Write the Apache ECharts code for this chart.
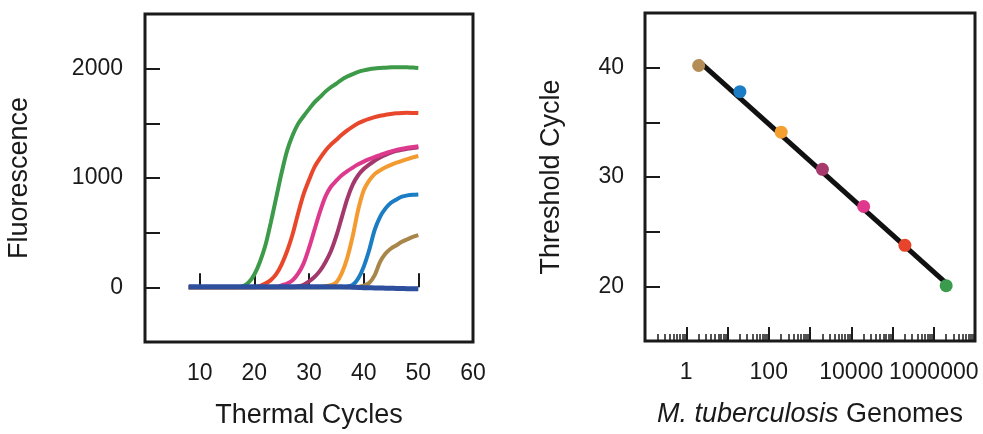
<!DOCTYPE html>
<html>
<head>
<meta charset="utf-8">
<title>Real-time PCR</title>
<script src="https://cdn.jsdelivr.net/npm/echarts@6/dist/echarts.min.js"></script>
<style>
  html, body { margin: 0; padding: 0; background: #fff; }
  #chart { width: 983px; height: 434px; }
</style>
</head>
<body>
<div id="chart"></div>
<script>
// amplification curves, cycles 8..50
var cycles = [8,9,10,11,12,13,14,15,16,17,18,19,20,21,22,23,24,25,26,27,28,29,30,31,32,33,34,35,36,37,38,39,40,41,42,43,44,45,46,47,48,49,50];
var greenCurve  = [0,0,0,0,0,0,0,0,0,2,12,47,118,230,380,590,820,1050,1250,1390,1495,1565,1630,1692,1740,1790,1830,1864,1900,1928,1950,1970,1984,1995,2002,2006,2009,2012,2014,2014,2012,2010,2006];
var redCurve    = [0,0,0,0,0,0,0,0,0,0,0,0,0,12,34,66,120,210,332,485,676,850,982,1100,1180,1250,1305,1350,1395,1435,1470,1500,1523,1541,1557,1569,1578,1586,1592,1595,1596,1595,1594];
var pinkCurve   = [0,0,0,0,0,0,0,0,0,0,0,0,0,0,0,0,0,18,34,64,125,217,360,525,690,830,920,975,1025,1062,1095,1125,1150,1172,1192,1210,1228,1243,1257,1267,1276,1283,1290];
var maroonCurve = [0,0,0,0,0,0,0,0,0,0,0,0,0,0,0,0,0,0,0,0,9,24,55,95,150,230,330,470,640,810,940,1025,1082,1122,1158,1188,1212,1232,1248,1259,1268,1274,1280];
var orangeCurve = [0,0,0,0,0,0,0,0,0,0,0,0,0,0,0,0,0,0,0,0,0,0,0,0,0,10,20,45,130,270,470,710,885,975,1035,1070,1098,1120,1140,1157,1173,1188,1202];
var blueCurve   = [0,0,0,0,0,0,0,0,0,0,0,0,0,0,0,0,0,0,0,0,0,0,0,0,0,0,0,0,0,8,22,80,187,339,523,645,722,774,804,829,841,847,850];
var brownCurve  = [0,0,0,0,0,0,0,0,0,0,0,0,0,0,0,0,0,0,0,0,0,0,0,0,0,0,0,0,0,0,0,5,15,40,110,232,309,355,385,416,440,462,477];
var baseCurve   = [5,5,5,5,5,5,5,5,5,5,5,5,5,5,5,5,5,5,5,5,5,5,5,5,5,5,5,5,5,3,1,-1,-3,-4,-5,-6,-8,-9,-10,-11,-12,-12,-12];

var curveNames  = ['green', 'red', 'maroon', 'pink', 'orange', 'blue', 'brown', 'baseline'];
var curveColors = ['#3c9a48', '#e8472c', '#a3386d', '#dd3a8e', '#f39b30', '#1b7dc4', '#a88649', '#2d4f9d'];
var curveData   = [greenCurve, redCurve, maroonCurve, pinkCurve, orangeCurve, blueCurve, brownCurve, baseCurve];

// standard curve
var genomes     = [2, 20, 200, 2000, 20000, 200000, 2000000];
var thresholds  = [40.2, 37.8, 34.1, 30.7, 27.3, 23.75, 20.06];
var pointColors = ['#b48c55', '#1a7dc6', '#f4a030', '#a63a6c', '#e0388c', '#e8442c', '#3a9b4c'];
var fitX = [2, 2000000];
var fitY = [40.6, 20.3];

// log axis ticks / labels
var decades = [0.1, 1, 10, 100, 1000, 10000, 100000, 1000000];
var genomeLabels = [1, 100, 10000, 1000000];

var minorTicks = [];
decades.forEach(function (d) {
  for (var k = 2; k <= 9; k++) minorTicks.push(+(k * d).toPrecision(3));
});

var FONT = 'Liberation Sans, Arial, Helvetica, sans-serif';
var INK = '#1a1a1a';

var myChart = echarts.init(document.getElementById('chart'));

var series = [];
curveData.forEach(function (vals, i) {
  series.push({
    name: curveNames[i],
    type: 'line',
    xAxisIndex: 0,
    yAxisIndex: 0,
    smooth: 0.3,
    showSymbol: false,
    symbol: 'none',
    z: i === 7 ? 10 : 2 + i * 0.1,
    lineStyle: { color: curveColors[i], width: i === 7 ? 5 : 4 },
    data: cycles.map(function (c, j) { return [c, vals[j]]; })
  });
});

series.push({
  name: 'fit',
  type: 'line',
  xAxisIndex: 1,
  yAxisIndex: 1,
  symbol: 'none',
  z: 2,
  lineStyle: { color: '#111', width: 5 },
  data: fitX.map(function (x, i) { return [x, fitY[i]]; })
});

series.push({
  name: 'Ct',
  type: 'scatter',
  xAxisIndex: 1,
  yAxisIndex: 1,
  symbolSize: 13,
  z: 5,
  itemStyle: { opacity: 1 },
  data: genomes.map(function (g, i) {
    return { value: [g, thresholds[i]], itemStyle: { color: pointColors[i], opacity: 1 } };
  })
});

var option = {
  backgroundColor: '#fff',
  animation: false,
  textStyle: { fontFamily: FONT },
  grid: [
    { left: 145, top: 14, width: 328, height: 328, show: true, borderColor: INK, borderWidth: 3, outerBoundsMode: 'none' },
    { left: 645, top: 13, width: 330, height: 328, show: true, borderColor: INK, borderWidth: 3, outerBoundsMode: 'none' }
  ],
  xAxis: [{
    gridIndex: 0,
    type: 'value',
    position: 'bottom',
    min: 0, max: 60, interval: 10,
    name: 'Thermal Cycles',
    nameLocation: 'middle',
    nameGap: 60,
    nameTextStyle: { fontSize: 27, color: INK, fontFamily: FONT },
    axisLine: { show: false },
    axisTick: { show: true, inside: true, length: 14, lineStyle: { color: INK, width: 2 } },
    axisLabel: {
      margin: 20, fontSize: 23, color: INK, fontFamily: FONT,
      formatter: function (v) { return v === 0 ? '' : v; }
    },
    splitLine: { show: false }
  }, {
    gridIndex: 1,
    type: 'log',
    logBase: 10,
    position: 'bottom',
    min: 0.1, max: 10000000,
    name: '{i|M. tuberculosis} Genomes',
    nameLocation: 'middle',
    nameGap: 60,
    nameTextStyle: {
      fontSize: 27, color: INK, fontFamily: FONT,
      rich: { i: { fontSize: 27, fontStyle: 'italic', color: INK, fontFamily: FONT } }
    },
    axisLine: { show: false },
    axisTick: { show: true, inside: true, length: 14, customValues: decades, lineStyle: { color: INK, width: 2 } },
    axisLabel: {
      margin: 20, fontSize: 23, color: INK, fontFamily: FONT,
      customValues: genomeLabels,
      formatter: function (v) { return genomeLabels.indexOf(+v) >= 0 ? String(v) : ''; }
    },
    splitLine: { show: false }
  }, {
    gridIndex: 1,
    type: 'log',
    logBase: 10,
    position: 'bottom',
    offset: 0,
    min: 0.1, max: 10000000,
    axisLine: { show: false },
    axisTick: { show: true, inside: true, length: 7, customValues: minorTicks, lineStyle: { color: INK, width: 1.5 } },
    axisLabel: { show: false },
    splitLine: { show: false }
  }],
  yAxis: [{
    gridIndex: 0,
    type: 'value',
    min: -500, max: 2500, interval: 500,
    name: 'Fluorescence',
    nameLocation: 'middle',
    nameGap: 112,
    nameTextStyle: { fontSize: 27, color: INK, fontFamily: FONT },
    axisLine: { show: false },
    axisTick: { show: true, inside: true, length: 15, lineStyle: { color: INK, width: 2 } },
    axisLabel: {
      margin: 22, fontSize: 23, color: INK, fontFamily: FONT,
      formatter: function (v) { return (v >= 0 && v % 1000 === 0) ? v : ''; }
    },
    splitLine: { show: false }
  }, {
    gridIndex: 1,
    type: 'value',
    min: 15, max: 45, interval: 5,
    name: 'Threshold Cycle',
    nameLocation: 'middle',
    nameGap: 80,
    nameTextStyle: { fontSize: 27, color: INK, fontFamily: FONT },
    axisLine: { show: false },
    axisTick: { show: true, inside: true, length: 15, lineStyle: { color: INK, width: 2 } },
    axisLabel: {
      margin: 21, fontSize: 23, color: INK, fontFamily: FONT,
      formatter: function (v) { return v % 10 === 0 ? v : ''; }
    },
    splitLine: { show: false }
  }],
  series: series
};

myChart.setOption(option);
</script>
</body>
</html>
